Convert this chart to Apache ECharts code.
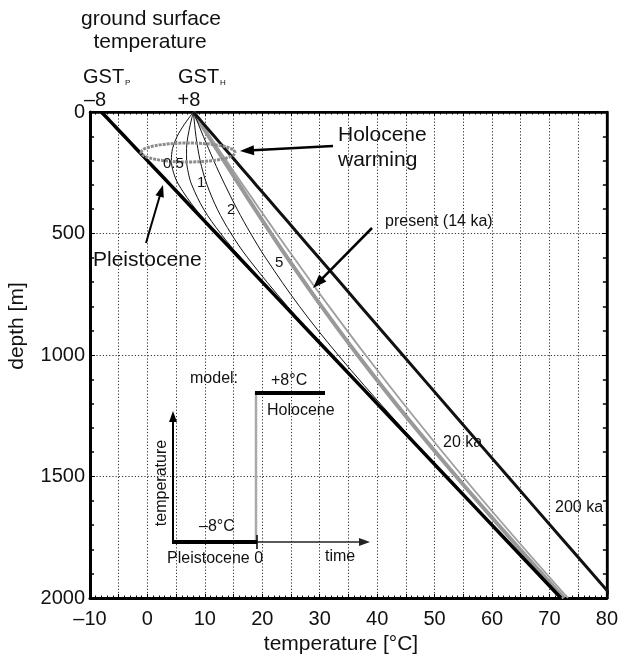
<!DOCTYPE html>
<html>
<head>
<meta charset="utf-8">
<script src="https://cdn.jsdelivr.net/npm/echarts@6/dist/echarts.min.js"></script>
<style>html,body{margin:0;padding:0;background:#fff}#c{width:621px;height:655px}</style>
</head>
<body>
<div id="c"></div>
<script>
// depth levels [m] shared by all profiles
const depths = [0, 25, 50, 75, 100, 150, 200, 250, 300, 400, 500, 600, 800, 1000, 1250, 1500, 1750, 2000];
// temperature profiles [°C]
const tempPleistocene = [-8, -7, -6, -5, -4, -2, 0, 2, 4, 8, 12, 16, 24, 32, 42, 52, 62, 72];
const temp05ka = [8, 7.21, 6.45, 5.77, 5.18, 4.38, 4.17, 4.55, 5.46, 8.39, 12.08, 16.01, 24, 32, 42, 52, 62, 72];
const temp1ka = [8, 7.73, 7.48, 7.25, 7.05, 6.81, 6.82, 7.12, 7.72, 9.79, 12.75, 16.27, 24.02, 32, 42, 52, 62, 72];
const temp2ka = [8, 8.10, 8.21, 8.32, 8.45, 8.77, 9.18, 9.71, 10.38, 12.17, 14.55, 17.46, 24.39, 32.08, 42, 52, 62, 72];
const temp5ka = [8, 8.43, 8.87, 9.30, 9.74, 10.63, 11.55, 12.50, 13.50, 15.62, 17.98, 20.57, 26.48, 33.21, 42.42, 52.12, 62.03, 72.01];
const temp14ka = [8, 8.66, 9.32, 9.98, 10.65, 11.97, 13.31, 14.64, 16.00, 18.73, 21.52, 24.37, 30.32, 36.60, 44.94, 53.78, 63.01, 72.54];
const temp20ka = [8, 8.72, 9.43, 10.15, 10.87, 12.30, 13.74, 15.18, 16.63, 19.55, 22.50, 25.50, 31.62, 37.98, 46.26, 54.91, 63.91, 73.21];
const temp200ka = [8, 8.91, 9.82, 10.73, 11.64, 13.46, 15.28, 17.10, 18.92, 22.57, 26.21, 29.86, 37.15, 44.45, 53.60, 62.77, 71.96, 81.18];
// axis ticks
const xTicks = [-10, 0, 10, 20, 30, 40, 50, 60, 70, 80];
const yTicks = [0, 500, 1000, 1500, 2000];

const FONT = '"Liberation Sans", Arial, Helvetica, sans-serif';
const INK = '#111';

function pairs(temps) { return temps.map((t, i) => [t, depths[i]]); }

function lineSeries(name, temps, color, width) {
  return {
    name, type: 'line', data: pairs(temps), showSymbol: false, symbol: 'none',
    smooth: 0.35, clip: true, silent: true,
    lineStyle: { color, width }, z: 3
  };
}

function txt(text, x, y, size, opts) {
  return Object.assign({
    type: 'text', x, y,
    style: Object.assign({ text, fontSize: size, fontFamily: FONT, fill: INK, align: 'left', verticalAlign: 'middle' }, (opts && opts.style) || {})
  }, opts && opts.el || {});
}

function arrow(x1, y1, x2, y2, w, head, color) {
  const dx = x2 - x1, dy = y2 - y1, len = Math.hypot(dx, dy);
  const ux = dx / len, uy = dy / len;
  const bx = x2 - ux * head, by = y2 - uy * head;
  const px = -uy, py = ux, hw = head * 0.36;
  return [
    { type: 'line', shape: { x1, y1, x2: bx + ux * 1, y2: by + uy * 1 }, style: { stroke: color, lineWidth: w } },
    { type: 'polygon', shape: { points: [[x2, y2], [bx + px * hw, by + py * hw], [bx - px * hw, by - py * hw]] }, style: { fill: color } }
  ];
}

const xFmt = v => (xTicks.indexOf(v) < 0 ? '' : (v < 0 ? '\u2013' + Math.abs(v) : String(v)));
const yFmt = v => (yTicks.indexOf(v) < 0 ? '' : String(v));

const chart = echarts.init(document.getElementById('c'), null, { renderer: 'canvas' });

const graphics = [].concat(
  [
    txt('ground surface', 151, 19, 21, { style: { align: 'center' } }),
    txt('temperature', 150, 42, 21, { style: { align: 'center' } }),
    txt('GST', 83, 77, 20),
    txt('P', 125, 83, 8),
    txt('GST', 178, 77, 20),
    txt('H', 220, 83, 8),
    txt('\u20138', 95, 100, 20, { style: { align: 'center' } }),
    txt('+8', 189, 100, 20, { style: { align: 'center' } }),
    txt('depth [m]', 17, 326, 21, { style: { align: 'center' }, el: { rotation: Math.PI / 2 } }),
    txt('temperature [\u00B0C]', 341, 644, 21, { style: { align: 'center' } }),
    // ellipse marking Holocene warming
    { type: 'ellipse', shape: { cx: 188, cy: 152.5, rx: 47, ry: 9.5 }, style: { fill: null, stroke: '#8c8c8c', lineWidth: 3, lineDash: [3, 1] }, z: 10 },
    txt('Holocene', 338, 135, 21),
    txt('warming', 338, 160, 21),
    txt('present (14 ka)', 385, 222, 16),
    txt('Pleistocene', 93, 260, 21),
    txt('0.5', 163, 164, 15),
    txt('1', 197, 183, 15),
    txt('2', 227, 210, 15),
    txt('5', 275, 263, 15),
    txt('20 ka', 443, 443, 16),
    txt('200 ka', 555, 508, 16),
    // model inset
    txt('model:', 190, 379, 16),
    txt('+8\u00B0C', 271, 381, 16),
    txt('Holocene', 267, 411, 16),
    txt('\u20138\u00B0C', 199, 527, 16),
    txt('Pleistocene 0', 167, 559, 16),
    txt('time', 325, 557, 16),
    txt('temperature', 162, 483, 16, { style: { align: 'center' }, el: { rotation: Math.PI / 2 } }),
    { type: 'line', shape: { x1: 256, y1: 542, x2: 256, y2: 392 }, style: { stroke: '#aaa', lineWidth: 2.5 }, z: 11 },
    { type: 'line', shape: { x1: 172, y1: 542, x2: 257, y2: 542 }, style: { stroke: '#000', lineWidth: 4 }, z: 12 },
    { type: 'line', shape: { x1: 255, y1: 393, x2: 325, y2: 393 }, style: { stroke: '#000', lineWidth: 4 }, z: 12 },
    { type: 'line', shape: { x1: 257, y1: 535, x2: 257, y2: 549 }, style: { stroke: '#000', lineWidth: 1.5 }, z: 12 }
  ],
  arrow(333, 146, 240, 151, 2.5, 14, '#000'),
  arrow(372, 228, 313, 288, 2.5, 14, '#000'),
  arrow(146, 243, 163, 185, 2, 12, '#000'),
  arrow(173, 543, 173, 411, 2, 11, '#000'),
  arrow(172, 542, 370, 542, 1.5, 11, '#222')
).map(g => Object.assign({ z: 10 }, g));

chart.setOption({
  animation: false,
  backgroundColor: '#fff',
  grid: { left: 90, right: 8, top: 112, bottom: 57, show: true, borderColor: '#000', borderWidth: 2, backgroundColor: 'transparent' },
  xAxis: [
    {
      type: 'value', min: -10, max: 80, interval: 5, position: 'bottom',
      axisLine: { show: true, onZero: false, lineStyle: { color: '#000', width: 3 } },
      axisTick: { show: true, inside: true, length: 4, lineStyle: { color: '#000' } },
      minorTick: { show: true, splitNumber: 5, length: 2.5, lineStyle: { color: '#000' } },
      axisLabel: { formatter: xFmt, fontSize: 20, fontFamily: FONT, color: INK, margin: 11, showMinLabel: true, showMaxLabel: true },
      splitLine: { show: true, lineStyle: { type: [1.2, 2], color: '#333', width: 1 } }
    },
    {
      type: 'value', min: -10, max: 80, interval: 5, position: 'top',
      axisLine: { show: true, onZero: false, lineStyle: { color: '#000', width: 2.5 } },
      axisTick: { show: true, inside: true, length: 4, lineStyle: { color: '#000' } },
      minorTick: { show: true, splitNumber: 5, length: 2.5, lineStyle: { color: '#000' } },
      axisLabel: { show: false }, splitLine: { show: false }
    }
  ],
  yAxis: [
    {
      type: 'value', min: 0, max: 2000, interval: 500, inverse: true, position: 'left',
      axisLine: { show: true, onZero: false, lineStyle: { color: '#000', width: 3 } },
      axisTick: { show: true, inside: true, length: 5, lineStyle: { color: '#000' } },
      minorTick: { show: true, splitNumber: 5, length: 4, lineStyle: { color: '#000', width: 1.5 } },
      axisLabel: { formatter: yFmt, fontSize: 20, fontFamily: FONT, color: INK, margin: 5 },
      splitLine: { show: true, lineStyle: { type: [1.2, 2], color: '#333', width: 1 } }
    },
    {
      type: 'value', min: 0, max: 2000, interval: 500, inverse: true, position: 'right',
      axisLine: { show: true, onZero: false, lineStyle: { color: '#000', width: 2.5 } },
      axisTick: { show: true, inside: true, length: 5, lineStyle: { color: '#000' } },
      minorTick: { show: true, splitNumber: 5, length: 4, lineStyle: { color: '#000', width: 1.5 } },
      axisLabel: { show: false }, splitLine: { show: false }
    }
  ],
  series: [
    lineSeries('14 ka (present)', temp14ka, '#999', 4),
    lineSeries('20 ka', temp20ka, '#9e9e9e', 1.8),
    lineSeries('0.5 ka', temp05ka, '#111', 1),
    lineSeries('1 ka', temp1ka, '#111', 1),
    lineSeries('2 ka', temp2ka, '#111', 1),
    lineSeries('5 ka', temp5ka, '#111', 1),
    lineSeries('200 ka', temp200ka, '#111', 3),
    lineSeries('Pleistocene', tempPleistocene, '#000', 3.5)
  ],
  graphic: graphics
});
</script>
</body>
</html>
